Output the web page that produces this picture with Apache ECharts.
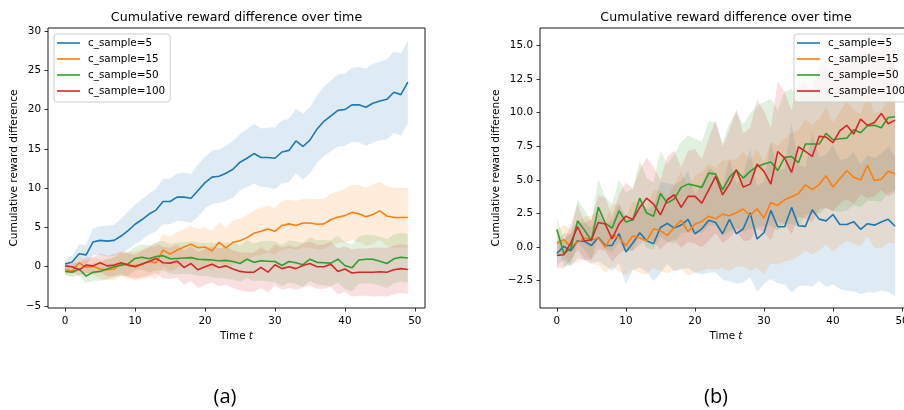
<!DOCTYPE html>
<html><head><meta charset="utf-8">
<script src="https://cdn.jsdelivr.net/npm/echarts@6/dist/echarts.min.js"></script>
<style>html,body{margin:0;padding:0;background:#fff}#c{width:904px;height:410px}</style>
</head><body><div id="c"></div>
<script>
// ---------- data ----------
const steps = [0,1,2,3,4,5,6,7,8,9,10,11,12,13,14,15,16,17,18,19,20,21,22,23,24,25,26,27,28,29,30,31,32,33,34,35,36,37,38,39,40,41,42,43,44,45,46,47,48,49];
const seriesNames = ['c_sample=5','c_sample=15','c_sample=50','c_sample=100'];
const xTicks = [0,10,20,30,40,50];
const leftYTicks = [-5,0,5,10,15,20,25,30];
const rightYTicks = [-2.5,0,2.5,5,7.5,10,12.5,15];
const panelLabels = ['(a)','(b)'];
const chartTitle = 'Cumulative reward difference over time';
const yName = 'Cumulative reward difference';

// (a) means
const blueL = [0.35,0.6,1.65,1.5,3.15,3.35,3.25,3.35,3.9,4.6,5.4,6.0,6.7,7.2,8.3,8.3,8.85,8.85,8.7,9.7,10.7,11.4,11.5,11.9,12.4,13.3,13.8,14.4,13.9,13.9,13.8,14.6,14.8,16.0,15.3,16.1,17.5,18.5,19.2,19.9,20.0,20.6,20.6,20.3,20.8,21.1,21.3,22.2,21.9,23.5];
const orangeL = [-0.4,-0.55,0.5,-0.1,0.05,-0.3,-0.4,-0.3,0.4,0.2,0.1,0.3,0.65,0.5,2.1,1.6,2.1,2.5,2.85,2.4,2.5,2.0,3.1,2.4,3.1,3.3,3.7,4.25,4.5,4.8,4.5,5.25,5.45,5.25,5.55,5.55,5.4,5.45,6.0,6.3,6.5,6.9,6.75,6.35,6.65,7.1,6.45,6.25,6.25,6.25];
const greenL = [-0.6,-0.7,-0.3,-1.2,-0.7,-0.6,-0.3,0.0,0.2,0.35,1.05,1.2,1.0,1.3,1.4,1.0,1.05,1.1,1.15,0.95,0.9,0.85,0.75,0.8,0.65,0.4,0.95,0.55,0.75,0.7,0.65,0.15,0.65,0.5,0.25,0.95,0.55,0.5,0.45,0.95,0.15,-0.15,0.85,0.95,0.95,0.7,0.4,1.0,1.2,1.1];
const redL = [0.1,0.0,-0.4,0.2,0.1,0.5,0.1,0.2,0.5,0.2,0.0,0.35,0.65,1.05,0.5,0.45,0.7,-0.1,0.4,-0.4,0.0,0.3,-0.1,0.1,-0.3,-0.6,-0.7,-0.7,-0.1,-0.7,0.25,-0.25,0.0,-0.25,0.15,0.4,0.0,0.0,0.3,-0.6,-0.3,-0.8,-0.7,-0.7,-0.7,-0.65,-0.7,-0.4,-0.25,-0.35];
// (a) band half-widths
const blueLsd = [0.6,0.8,1.2,1.3,1.7,1.8,2.0,2.0,2.2,2.4,2.5,2.6,2.6,2.7,2.9,2.9,3.0,3.1,3.1,3.3,3.3,3.4,3.4,3.5,3.6,3.6,3.7,3.8,3.7,3.8,3.9,4.0,4.0,4.1,4.2,4.2,4.3,4.4,4.5,4.6,4.6,4.7,4.8,4.9,5.0,5.0,5.1,5.2,5.2,5.3];
const orangeLsd = [0.5,0.7,0.9,0.9,1.1,1.2,1.3,1.4,1.6,1.7,1.8,1.9,2.0,2.0,2.1,2.2,2.3,2.3,2.4,2.4,2.5,2.5,2.6,2.6,2.8,2.8,2.9,2.9,3.0,3.0,3.0,3.1,3.1,3.1,3.1,3.1,3.2,3.2,3.3,3.3,3.4,3.5,3.6,3.7,3.8,3.7,3.8,3.8,3.8,3.8];
const greenLsd = [0.5,0.6,0.8,0.9,1.1,1.2,1.3,1.3,1.4,1.5,1.5,1.6,1.7,1.8,1.9,1.9,2.0,2.0,2.1,2.1,2.1,2.2,2.2,2.3,2.3,2.3,2.4,2.4,2.5,2.6,2.6,2.6,2.7,2.7,2.8,2.8,2.8,2.9,2.9,3.0,3.0,3.0,3.0,3.1,3.1,3.1,3.1,3.1,3.1,3.1];
const redLsd = [0.4,0.6,0.8,1.0,1.1,1.2,1.3,1.4,1.4,1.5,1.5,1.7,1.8,1.9,2.0,2.0,2.1,2.2,2.2,2.3,2.3,2.3,2.4,2.4,2.4,2.4,2.5,2.5,2.6,2.6,2.6,2.7,2.7,2.7,2.8,2.8,2.8,2.8,2.9,2.9,2.9,3.0,3.0,3.0,3.1,3.1,3.1,3.1,3.1,3.1];

// (b) means
const blueR = [-0.47,0.05,-0.27,0.47,0.42,0.12,0.72,0.12,0.12,1.0,-0.37,0.3,1.07,0.47,0.25,1.46,1.76,1.41,1.64,2.06,0.99,1.36,2.0,1.83,0.99,2.06,0.99,1.36,2.55,0.6,1.07,2.73,1.51,1.51,2.95,1.59,1.54,2.78,2.08,1.95,2.42,1.68,1.68,1.89,1.32,1.74,1.63,1.87,2.06,1.55];
const orangeR = [0.3,0.55,0.05,0.37,0.67,0.55,0.67,-0.02,0.87,0.72,0.12,0.84,0.67,0.47,1.36,1.21,0.87,1.46,2.0,1.16,1.71,1.91,2.3,2.1,2.45,2.33,2.55,2.83,2.35,2.85,2.16,3.3,3.1,3.52,3.74,3.99,4.63,4.27,4.65,5.3,4.47,5.08,5.68,5.19,4.98,6.07,4.95,5.04,5.63,5.46];
const greenR = [1.31,-0.47,-0.12,1.96,1.26,0.47,2.97,1.78,1.41,2.7,1.86,2.03,3.64,2.53,2.3,3.99,3.27,3.59,4.44,4.68,4.58,4.44,5.5,5.43,4.26,5.18,5.72,5.13,5.63,6.0,6.17,6.32,5.7,6.67,6.74,6.27,7.66,7.66,7.66,8.45,7.98,8.05,8.1,8.72,8.5,9.02,9.05,8.87,9.64,9.69];
const redR = [-0.62,-0.57,0.3,1.51,0.45,0.55,1.83,1.71,0.6,1.71,2.3,2.03,2.95,3.64,3.2,2.4,3.52,3.89,2.95,3.77,3.77,3.27,4.26,5.25,3.89,4.68,5.75,4.46,4.68,6.17,5.63,4.68,7.11,6.62,5.55,7.46,7.11,6.74,8.23,8.18,7.76,8.65,9.05,8.4,9.52,9.05,9.27,9.94,9.17,9.44];
// (b) band half-widths
const blueRsd = [0.9,1.0,1.2,1.3,1.4,1.3,1.8,1.5,1.9,2.2,2.4,2.0,2.6,2.3,2.8,3.4,3.0,3.2,3.3,3.6,2.9,3.4,3.9,3.7,3.4,4.6,3.7,4.0,4.8,3.9,3.8,5.1,4.2,4.3,6.3,4.5,4.4,5.7,4.6,4.9,5.2,4.8,4.9,5.2,4.8,5.1,5.0,5.1,5.4,5.2];
const orangeRsd = [1.0,1.1,1.3,1.5,1.6,1.8,2.0,1.9,2.3,2.5,2.2,2.5,2.6,2.5,2.9,3.0,2.8,3.2,3.6,3.3,3.6,3.7,3.9,3.8,4.0,4.1,4.0,4.3,4.1,4.4,4.2,4.5,4.4,4.6,4.7,4.7,4.9,4.8,4.9,5.1,4.8,5.0,5.2,5.0,4.9,5.3,5.0,5.1,5.3,5.2];
const greenRsd = [0.8,1.0,1.2,1.6,1.5,1.4,2.1,1.9,1.8,2.3,2.2,2.3,2.8,2.6,2.5,3.2,2.9,3.3,3.4,3.6,3.5,3.4,3.9,3.8,3.5,4.0,4.3,4.0,4.3,4.5,4.6,4.7,4.5,4.9,5.0,4.8,5.3,5.2,5.2,5.5,5.3,5.4,5.4,5.6,5.5,5.6,5.6,5.5,5.6,5.5];
const redRsd = [0.9,1.0,1.3,1.7,1.4,1.5,2.0,2.0,1.7,2.2,2.5,2.3,2.8,3.0,2.8,2.6,3.2,3.3,3.0,3.4,3.5,3.3,3.8,4.2,3.6,4.0,4.5,4.0,4.2,4.8,4.5,4.2,5.2,4.9,4.6,5.2,5.0,4.9,5.4,5.3,5.1,5.4,5.5,5.2,5.6,5.4,5.5,5.7,5.4,5.4];

// ---------- chart ----------
const FONT = 'DejaVu Sans';
const FS = 10.4;
const COLORS = ['#1f77b4','#ff7f0e','#2ca02c','#d62728'];
const panels = [
  {means:[blueL,orangeL,greenL,redL], sds:[blueLsd,orangeLsd,greenLsd,redLsd]},
  {means:[blueR,orangeR,greenR,redR], sds:[blueRsd,orangeRsd,greenRsd,redRsd]}
];

const series = [];
panels.forEach((p, gi) => {
  p.means.forEach((m, k) => {
    const sd = p.sds[k];
    series.push({type:'custom', xAxisIndex:gi, yAxisIndex:gi, silent:true, z:1, clip:false,
      data:[[steps[0], m[0]]],
      renderItem:(params, api) => {
        const pts = [];
        for (let i = 0; i < steps.length; i++) pts.push(api.coord([steps[i], m[i] - sd[i]]));
        for (let i = steps.length - 1; i >= 0; i--) pts.push(api.coord([steps[i], m[i] + sd[i]]));
        return {type:'polygon', shape:{points:pts}, style:{fill:COLORS[k], opacity:0.15, stroke:null}};
      }});
  });
});
panels.forEach((p, gi) => {
  p.means.forEach((m, k) => {
    series.push({type:'line', name:seriesNames[k], xAxisIndex:gi, yAxisIndex:gi,
      data: steps.map((x,i)=>[x, m[i]]), symbol:'none', showSymbol:false,
      lineStyle:{color:COLORS[k], width:1.6}, itemStyle:{color:COLORS[k]}, z:3});
  });
});

const minus = v => (v < 0 ? '\u2212' : '') + Math.abs(v);
const tickStyle = {length:3.5, lineStyle:{color:'#000', width:0.8}};
const labelStyle = {fontSize:FS, color:'#000', fontFamily:FONT};

function xAxis(gi) {
  return {gridIndex:gi, type:'value', min:-2.45, max:51.45,
    axisLine:{show:false, onZero:false}, splitLine:{show:false},
    axisTick:Object.assign({customValues:xTicks}, tickStyle),
    axisLabel:Object.assign({customValues:xTicks, margin:8, formatter:v=>minus(v)}, labelStyle),
    name:'{n|Time }{i|t}', nameLocation:'middle', nameGap:22,
    nameTextStyle:{rich:{n:{fontSize:FS, fontFamily:FONT, color:'#000'}, i:{fontSize:FS, fontFamily:FONT, fontStyle:'italic', color:'#000'}}}
  };
}
function yAxis(gi, ticks, min, max, fmt, gap) {
  return {gridIndex:gi, type:'value', min:min, max:max,
    axisLine:{show:false, onZero:false}, splitLine:{show:false},
    axisTick:Object.assign({customValues:ticks}, tickStyle),
    axisLabel:Object.assign({customValues:ticks, margin:7, formatter:fmt}, labelStyle),
    name:yName, nameLocation:'middle', nameGap:gap, nameRotate:90,
    nameTextStyle:{fontSize:10.6, fontFamily:FONT, color:'#000'}
  };
}
function legend(left) {
  return {orient:'vertical', left:left, top:34, data:seriesNames.slice(),
    icon:'rect', itemWidth:23, itemHeight:1.6, itemGap:4,
    padding:[3,5,5,3], backgroundColor:'rgba(255,255,255,0.8)',
    borderColor:'#cccccc', borderWidth:1, borderRadius:3,
    textStyle:{fontSize:FS, fontFamily:FONT, color:'#000', lineHeight:12, padding:[0,0,0,3]},
    selectedMode:false, z:10};
}

const option = {
  animation:false,
  grid:[
    {left:48, width:377, top:28, height:280, show:true, borderColor:'#000', borderWidth:0.9, backgroundColor:'rgba(0,0,0,0)', containLabel:false, outerBoundsMode:'none'},
    {left:540, width:372, top:28, height:280, show:true, borderColor:'#000', borderWidth:0.9, backgroundColor:'rgba(0,0,0,0)', containLabel:false, outerBoundsMode:'none'}
  ],
  xAxis:[xAxis(0), xAxis(1)],
  yAxis:[
    yAxis(0, leftYTicks, -5.26, 30.38, v=>minus(v), 28),
    yAxis(1, rightYTicks, -4.53, 16.29, v=>(v<0?'\u2212':'')+Math.abs(v).toFixed(1), 38)
  ],
  legend:[legend(54), legend(794)],
  graphic:[
    {type:'text', x:236.5, y:18, style:{text:chartTitle, font:'12.6px "DejaVu Sans"', fill:'#000', textAlign:'center', verticalAlign:'middle'}},
    {type:'text', x:726, y:18, style:{text:chartTitle, font:'12.6px "DejaVu Sans"', fill:'#000', textAlign:'center', verticalAlign:'middle'}},
    {type:'text', x:225, y:397, style:{text:panelLabels[0], font:'20px "Open Sans"', fill:'#000', textAlign:'center', verticalAlign:'middle'}},
    {type:'text', x:716, y:397, style:{text:panelLabels[1], font:'20px "Open Sans"', fill:'#000', textAlign:'center', verticalAlign:'middle'}}
  ],
  series:series
};
const chart = echarts.init(document.getElementById('c'), null, {renderer:'canvas'});
chart.setOption(option);
</script>
</body></html>
